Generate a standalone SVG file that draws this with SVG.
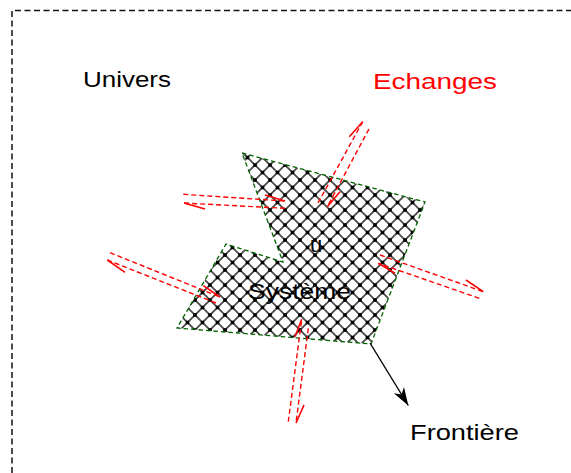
<svg xmlns="http://www.w3.org/2000/svg" width="571" height="473" viewBox="0 0 571 473">
  <style>
    .frame { fill: none; stroke: #1a0f0f; stroke-width: 1.5; stroke-dasharray: 6 3.5; }
    .border { fill: none; stroke: #006400; stroke-width: 1.3; stroke-dasharray: 4.5 3; }
    .flow { fill: none; stroke: #ff0000; stroke-width: 1.4; stroke-dasharray: 5 3; }
    .barb { fill: none; stroke: #ff0000; stroke-width: 1.6; }
    .lbl { font-family: "Liberation Sans", Arial, sans-serif; font-size: 22px; fill: #000; }
    .red { fill: #ff0000; }
  </style>
  <defs>
    <pattern id="grid" patternUnits="userSpaceOnUse" width="15" height="15" x="0" y="0">
      <rect width="15" height="15" fill="#fff"/>
      <path d="M0,0 L15,15 M15,0 L0,15" stroke="#4a4a4a" stroke-width="1.8"/>
      <rect x="-1.75" y="-1.75" width="3.5" height="3.5" fill="#000"/>
      <rect x="13.25" y="-1.75" width="3.5" height="3.5" fill="#000"/>
      <rect x="-1.75" y="13.25" width="3.5" height="3.5" fill="#000"/>
      <rect x="13.25" y="13.25" width="3.5" height="3.5" fill="#000"/>
      <rect x="5.75" y="5.75" width="3.5" height="3.5" fill="#000"/>
    </pattern>
    <filter id="soft" x="0" y="0" width="1" height="1">
      <feGaussianBlur stdDeviation="0.6"/>
    </filter>
    <marker id="head" markerWidth="20" markerHeight="14" refX="18" refY="7" orient="auto" markerUnits="userSpaceOnUse">
      <path d="M0,1 L18,7 L0,13 L5,7 Z" fill="#000"/>
    </marker>
  </defs>

  <!-- universe boundary -->
  <path class="frame" d="M12,473 L12,10.5 L571,10.5"/>

  <text class="lbl" x="83" y="87" textLength="88" lengthAdjust="spacingAndGlyphs">Univers</text>
  <text class="lbl red" x="373" y="89" textLength="124" lengthAdjust="spacingAndGlyphs">Echanges</text>

  <!-- system -->
  <g id="systeme">
    <path d="M242,153 L425,202 L371,344 L177,328 L226,244 L283,262 Z" fill="url(#grid)" filter="url(#soft)"/>
    <path class="border" d="M242,153 L425,202 L371,344 L177,328 L226,244 L283,262 Z"/>
    <text class="lbl" x="310" y="252" font-size="19">u</text>
    <text class="lbl" x="248" y="299" textLength="103" lengthAdjust="spacingAndGlyphs">Système</text>
  </g>

  <!-- exchanges with the surroundings -->
  <g id="echanges">
    <!-- top -->
    <path class="flow" d="M318,203 L362.7,121.7"/>
    <path class="barb" d="M362.7,121.7 L349.3,136.7"/>
    <path class="flow" d="M369,129 L327.3,206.7"/>
    <path class="barb" d="M327.3,206.7 L340,191.7"/>
    <!-- left upper -->
    <path class="flow" d="M183.3,194.3 L285,201"/>
    <path class="barb" d="M285,201 L265,195"/>
    <path class="flow" d="M285,208.3 L184,203"/>
    <path class="barb" d="M184,203 L205,209"/>
    <!-- left lower -->
    <path class="flow" d="M110,252.7 L220,297"/>
    <path class="barb" d="M220,297 L203.3,285.7"/>
    <path class="flow" d="M216,303 L107.3,260"/>
    <path class="barb" d="M107.3,260 L125,272.3"/>
    <!-- right -->
    <path class="flow" d="M380,255 L483.3,291.7"/>
    <path class="barb" d="M483.3,291.7 L466,280"/>
    <path class="flow" d="M479.3,298.3 L378.3,263.3"/>
    <path class="barb" d="M378.3,263.3 L395,273.3"/>
    <!-- bottom -->
    <path class="flow" d="M288.3,421.7 L301.7,319.3"/>
    <path class="barb" d="M301.7,319.3 L295,336.7"/>
    <path class="flow" d="M308.3,328.3 L296,423"/>
    <path class="barb" d="M296,423 L304,405"/>
  </g>

  <!-- boundary pointer -->
  <g id="frontiere">
    <path d="M370,343 L408.3,405.5" stroke="#000" stroke-width="1.4" fill="none" marker-end="url(#head)"/>
    <text class="lbl" x="410" y="440" textLength="109" lengthAdjust="spacingAndGlyphs">Frontière</text>
  </g>
</svg>
